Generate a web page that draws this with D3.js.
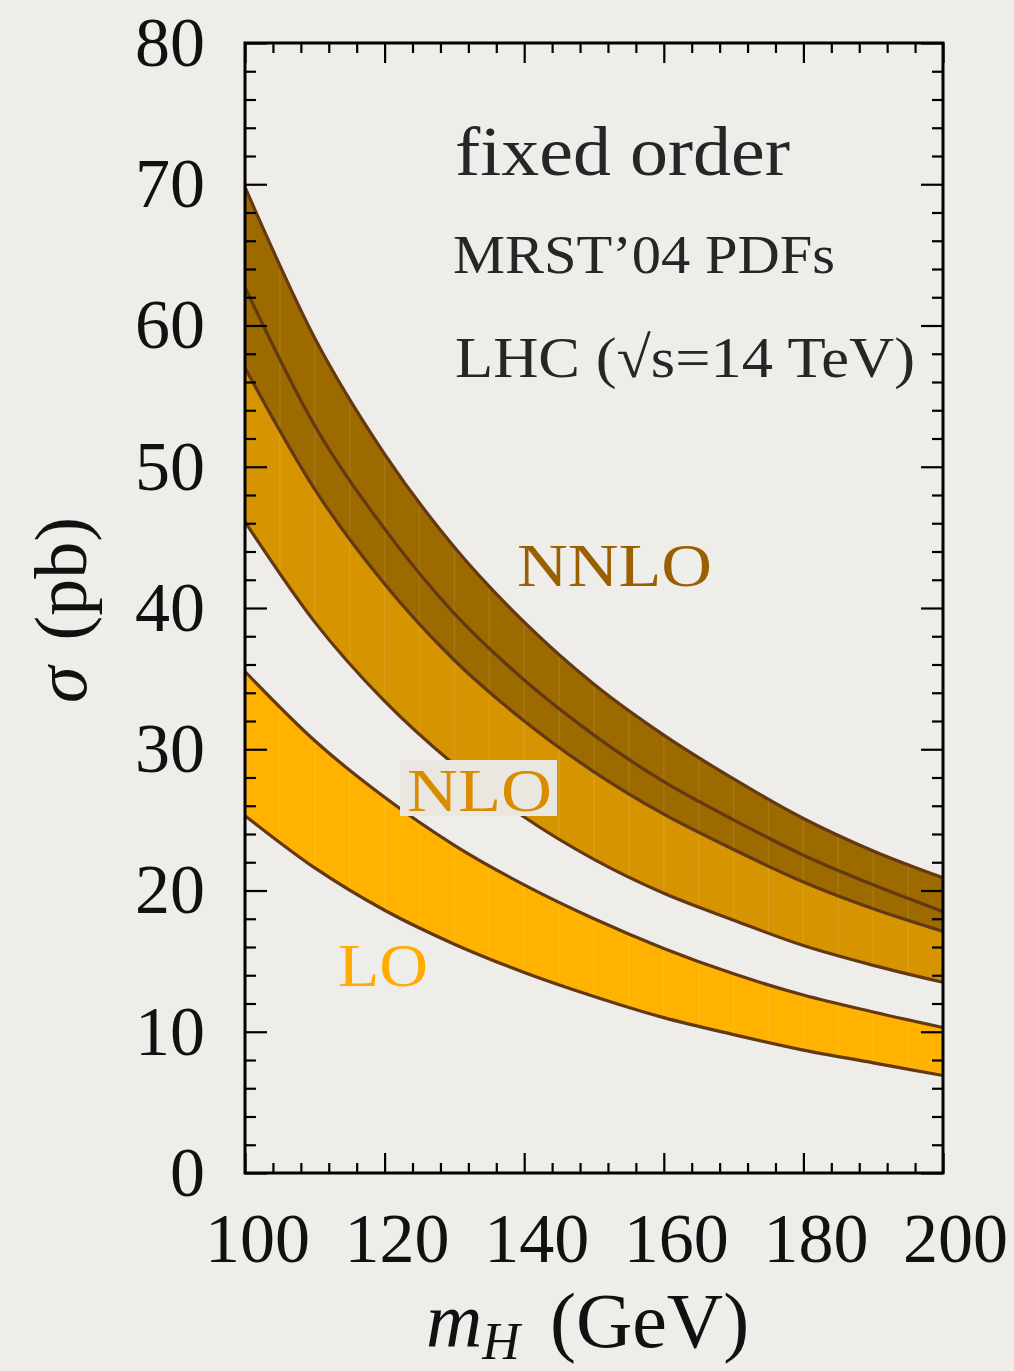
<!DOCTYPE html>
<html><head><meta charset="utf-8">
<script src="https://cdn.jsdelivr.net/npm/d3@7"></script>
<style>body{margin:0;background:#eeede9;} svg{display:block}</style>
</head><body>
<svg id="c" width="1014" height="1371"></svg>
<script>
// ---- data ----
const mH       = [100, 110, 120, 130, 140, 150, 160, 170, 180, 190, 200];
const nnloHigh = [69.8, 59.1, 50.9, 44.3, 39.0, 34.6, 31.0, 27.9, 25.1, 22.8, 20.9];
const nnloLow  = [57.0, 48.4, 41.7, 36.3, 32.0, 28.4, 25.4, 22.9, 20.6, 18.7, 17.1];
const nloHigh  = [62.7, 52.9, 45.6, 39.6, 34.9, 31.0, 27.7, 25.0, 22.5, 20.4, 18.5];
const nloLow   = [46.1, 39.0, 33.4, 28.9, 25.2, 22.2, 19.8, 17.9, 16.1, 14.7, 13.5];
const loHigh   = [35.5, 30.6, 26.6, 23.2, 20.4, 18.0, 15.9, 14.1, 12.6, 11.4, 10.3];
const loLow    = [25.3, 21.6, 18.6, 16.2, 14.2, 12.5, 11.0, 9.8, 8.7, 7.8, 6.9];
const xMajor = [100, 120, 140, 160, 180, 200];
const yMajor = [0, 10, 20, 30, 40, 50, 60, 70, 80];
const annotations = ["fixed order", "MRST’04 PDFs", "LHC (√s=14 TeV)"];

const W = 1014, H = 1371;
const M = {l: 245, r: 943, t: 43, b: 1173};
const svg = d3.select("#c");
svg.append("rect").attr("width", W).attr("height", H).attr("fill", "#eeede9");

const x = d3.scaleLinear().domain([100, 200]).range([M.l, M.r]);
const y = d3.scaleLinear().domain([0, 80]).range([M.b, M.t]);

const defs = svg.append("defs");
defs.append("clipPath").attr("id", "plot").append("rect")
  .attr("x", M.l).attr("y", M.t).attr("width", M.r - M.l).attr("height", M.b - M.t);

const bands = [
  {lo: loLow, hi: loHigh, fill: "#ffb300"},
  {lo: nloLow, hi: nloHigh, fill: "#d69500"},
  {lo: nnloLow, hi: nnloHigh, fill: "#9d6a00"}
];
const area = b => d3.area()
  .x((d, i) => x(mH[i]))
  .y0((d, i) => y(b.lo[i]))
  .y1((d, i) => y(b.hi[i]))
  .curve(d3.curveMonotoneX)(mH);

const g = svg.append("g").attr("clip-path", "url(#plot)");
bands.forEach(b => g.append("path").attr("d", area(b)).attr("fill", b.fill));

// faint vertical rendering stripes inside the bands
const bandClip = defs.append("clipPath").attr("id", "bands");
bands.forEach(b => bandClip.append("path").attr("d", area(b)));
const stripes = d3.range(105, 200, 5);
g.append("g").attr("clip-path", "url(#bands)").selectAll("line").data(stripes).join("line")
  .attr("x1", d => x(d)).attr("x2", d => x(d)).attr("y1", M.t).attr("y2", M.b)
  .attr("stroke", "#ffffff").attr("stroke-opacity", 0.09).attr("stroke-width", 1.5);

const line = arr => d3.line().x((d, i) => x(mH[i])).y((d, i) => y(arr[i])).curve(d3.curveMonotoneX)(mH);
[loLow, loHigh, nloLow, nloHigh, nnloLow, nnloHigh].forEach(arr =>
  g.append("path").attr("d", line(arr)).attr("fill", "none")
   .attr("stroke", "#643812").attr("stroke-width", 3.2));

// ---- axes ----
const font = "'Liberation Serif', 'DejaVu Serif', serif";
const yMinor = d3.range(0, 81, 2).filter(v => v % 10 !== 0);
const xMinor = d3.range(100, 201, 4).filter(v => v % 20 !== 0);

function styleAxis(sel) {
  sel.select(".domain").remove();
  sel.attr("font-family", font).attr("font-size", 70);
  sel.selectAll("line").attr("stroke", "#000").attr("stroke-width", 2.2);
  sel.selectAll("text").attr("fill", "#111");
}
svg.append("g").attr("transform", `translate(${M.l},0)`)
  .call(d3.axisLeft(y).tickValues(yMajor).tickSize(-22).tickPadding(40).tickFormat(d3.format("d"))).call(styleAxis);
svg.append("g").attr("transform", `translate(${M.l},0)`)
  .call(d3.axisLeft(y).tickValues(yMinor).tickSize(-11).tickFormat("")).call(styleAxis);
svg.append("g").attr("transform", `translate(${M.r},0)`)
  .call(d3.axisRight(y).tickValues(yMajor).tickSize(-22).tickFormat("")).call(styleAxis);
svg.append("g").attr("transform", `translate(${M.r},0)`)
  .call(d3.axisRight(y).tickValues(yMinor).tickSize(-11).tickFormat("")).call(styleAxis);
const xb = svg.append("g").attr("transform", `translate(0,${M.b})`)
  .call(d3.axisBottom(x).tickValues(xMajor).tickSize(-20).tickPadding(39).tickFormat(d3.format("d"))).call(styleAxis);
xb.selectAll("text").attr("dx", 12);
svg.append("g").attr("transform", `translate(0,${M.b})`)
  .call(d3.axisBottom(x).tickValues(xMinor).tickSize(-10).tickFormat("")).call(styleAxis);
svg.append("g").attr("transform", `translate(0,${M.t})`)
  .call(d3.axisTop(x).tickValues(xMajor).tickSize(-20).tickFormat("")).call(styleAxis);
svg.append("g").attr("transform", `translate(0,${M.t})`)
  .call(d3.axisTop(x).tickValues(xMinor).tickSize(-10).tickFormat("")).call(styleAxis);

svg.append("rect").attr("x", M.l).attr("y", M.t).attr("width", M.r - M.l).attr("height", M.b - M.t)
  .attr("fill", "none").attr("stroke", "#000").attr("stroke-width", 3);

// ---- axis titles ----
const xt = svg.append("text").attr("x", 426).attr("y", 1347)
  .attr("font-family", font).attr("font-size", 78).attr("fill", "#111");
xt.append("tspan").attr("font-style", "italic").text("m");
xt.append("tspan").attr("font-style", "italic").attr("font-size", 52).attr("dy", 12).text("H");
xt.append("tspan").attr("dy", -12).attr("dx", 30).text("(GeV)");

const yt = svg.append("text").attr("transform", "translate(86,610) rotate(-90)")
  .attr("text-anchor", "middle").attr("font-family", font).attr("font-size", 74).attr("fill", "#111");
yt.append("tspan").attr("font-style", "italic").text("σ");
yt.append("tspan").attr("dx", 26).text("(pb)");

// ---- annotations ----
const ann = svg.append("g").attr("font-family", font).attr("fill", "#262626");
ann.append("text").attr("x", 455).attr("y", 175).attr("font-size", 70)
  .attr("textLength", 335).attr("lengthAdjust", "spacingAndGlyphs").text(annotations[0]);
ann.append("text").attr("x", 453).attr("y", 273).attr("font-size", 54)
  .attr("textLength", 382).attr("lengthAdjust", "spacingAndGlyphs").text(annotations[1]);
ann.append("text").attr("x", 455).attr("y", 377).attr("font-size", 58)
  .attr("textLength", 460).attr("lengthAdjust", "spacingAndGlyphs").text(annotations[2]);

// ---- band labels ----
svg.append("text").attr("x", 517).attr("y", 586).attr("font-family", font).attr("font-size", 62)
  .attr("fill", "#9a5f00").attr("textLength", 195).attr("lengthAdjust", "spacingAndGlyphs").text("NNLO");
svg.append("rect").attr("x", 400).attr("y", 760).attr("width", 157).attr("height", 56).attr("fill", "#e9e7e0");
svg.append("text").attr("x", 407).attr("y", 811).attr("font-family", font).attr("font-size", 62)
  .attr("fill", "#d98c00").attr("textLength", 145).attr("lengthAdjust", "spacingAndGlyphs").text("NLO");
svg.append("text").attr("x", 338).attr("y", 986).attr("font-family", font).attr("font-size", 62)
  .attr("fill", "#ffab00").attr("textLength", 90).attr("lengthAdjust", "spacingAndGlyphs").text("LO");
</script></body></html>
